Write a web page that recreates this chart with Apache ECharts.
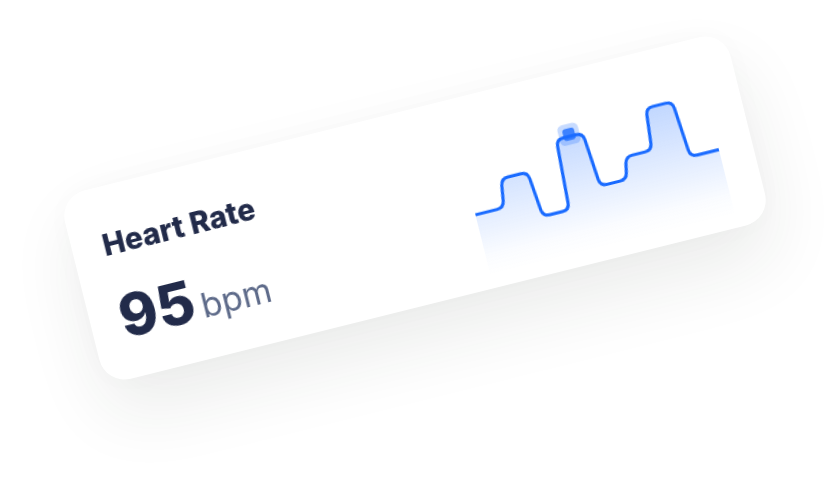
<!DOCTYPE html>
<html>
<head>
<meta charset="utf-8">
<script src="https://cdn.jsdelivr.net/npm/echarts@6/dist/echarts.min.js"></script>
<style>
  html, body { margin: 0; padding: 0; background: #ffffff; width: 828px; height: 482px; overflow: hidden; }
  #card {
    position: absolute;
    left: 72px; top: 111px;
    width: 686px; height: 194px;
    background: #ffffff;
    border-radius: 26px;
    box-shadow: 0 34px 70px rgba(30, 45, 40, 0.085), 0 0 30px rgba(30, 45, 40, 0.018);
    transform: rotate(-14deg);
    transform-origin: 50% 50%;
  }
  #chart { width: 686px; height: 194px; }
</style>
</head>
<body>
<div id="card"><div id="chart"></div></div>
<script>
// ---- data ----
const titleText = 'Heart Rate';
const currentValue = '95';
const unitText = 'bpm';
const stepIndex = [0, 1, 2, 3, 4, 5, 6, 7];          // step slots
const heartRate = [78, 91, 70, 102, 77, 87, 106, 80]; // level of each slot
const highlight = [[3.5, 103]];                       // highlighted reading
const yMin = 50, yMax = 115;

const LINE = '#1a6bff';

function roundedPath(pts, r) {
  let d = 'M' + pts[0][0] + ' ' + pts[0][1];
  for (let i = 1; i < pts.length - 1; i++) {
    const p = pts[i], a = pts[i - 1], b = pts[i + 1];
    const la = Math.hypot(a[0] - p[0], a[1] - p[1]);
    const lb = Math.hypot(b[0] - p[0], b[1] - p[1]);
    const rr = Math.min(r, la / 2, lb / 2);
    if (rr <= 0.01) { d += ' L' + p[0] + ' ' + p[1]; continue; }
    const p1 = [p[0] + (a[0] - p[0]) / la * rr, p[1] + (a[1] - p[1]) / la * rr];
    const p2 = [p[0] + (b[0] - p[0]) / lb * rr, p[1] + (b[1] - p[1]) / lb * rr];
    d += ' L' + p1[0] + ' ' + p1[1] + ' Q' + p[0] + ' ' + p[1] + ' ' + p2[0] + ' ' + p2[1];
  }
  const l = pts[pts.length - 1];
  d += ' L' + l[0] + ' ' + l[1];
  return d;
}

function renderStep(params, api) {
  if (params.dataIndex !== 0) return null;
  const half = 0.07;
  const n = heartRate.length;
  const pts = [api.coord([0, heartRate[0]])];
  for (let i = 1; i < n; i++) {
    pts.push(api.coord([i - half, heartRate[i - 1]]));
    pts.push(api.coord([i + half, heartRate[i]]));
  }
  pts.push(api.coord([n, heartRate[n - 1]]));
  const lineD = roundedPath(pts, 7);
  const bottom = api.coord([0, yMin])[1];
  const first = pts[0], last = pts[pts.length - 1];
  const areaD = lineD + ' L' + last[0] + ' ' + bottom + ' L' + first[0] + ' ' + bottom + ' Z';
  return {
    type: 'group',
    children: [
      { type: 'path', shape: { pathData: areaD },
        style: { fill: new echarts.graphic.LinearGradient(0, 0, 0, 1, [
          { offset: 0, color: 'rgba(26,107,255,0.27)' },
          { offset: 0.85, color: 'rgba(26,107,255,0.02)' },
          { offset: 1, color: 'rgba(26,107,255,0)' }
        ]), stroke: null } },
      { type: 'path', shape: { pathData: lineD },
        style: { fill: null, stroke: LINE, lineWidth: 3.2, lineJoin: 'round', lineCap: 'butt' } }
    ]
  };
}

const chart = echarts.init(document.getElementById('chart'), null, { renderer: 'canvas' });
chart.setOption({
  animation: false,
  backgroundColor: 'transparent',
  grid: { left: 400, right: 34, top: 36, bottom: 13.5 },
  xAxis: { type: 'value', min: 0, max: stepIndex.length, show: false },
  yAxis: { type: 'value', min: yMin, max: yMax, show: false },
  graphic: [
    { type: 'text', left: 31, top: 45,
      style: { text: titleText, font: '800 30px Inter', fill: '#222b4a' } },
    { type: 'text', left: 30, top: 107,
      style: { text: currentValue, font: '800 58px Inter', fill: '#222b4a' } },
    { type: 'text', left: 112, top: 126,
      style: { text: unitText, font: '400 34px Inter', fill: '#5d6a89' } }
  ],
  series: [
    { type: 'custom', renderItem: renderStep, silent: true,
      data: stepIndex.map((x, i) => [x, heartRate[i]]), z: 2 },
    { type: 'scatter', data: highlight, symbol: 'roundRect', symbolSize: 21,
      itemStyle: { color: 'rgba(26,107,255,0.3)' }, silent: true, z: 3 },
    { type: 'scatter', data: highlight, symbol: 'roundRect', symbolSize: 12,
      itemStyle: { color: LINE }, silent: true, z: 4 }
  ]
});
</script>
</body>
</html>
